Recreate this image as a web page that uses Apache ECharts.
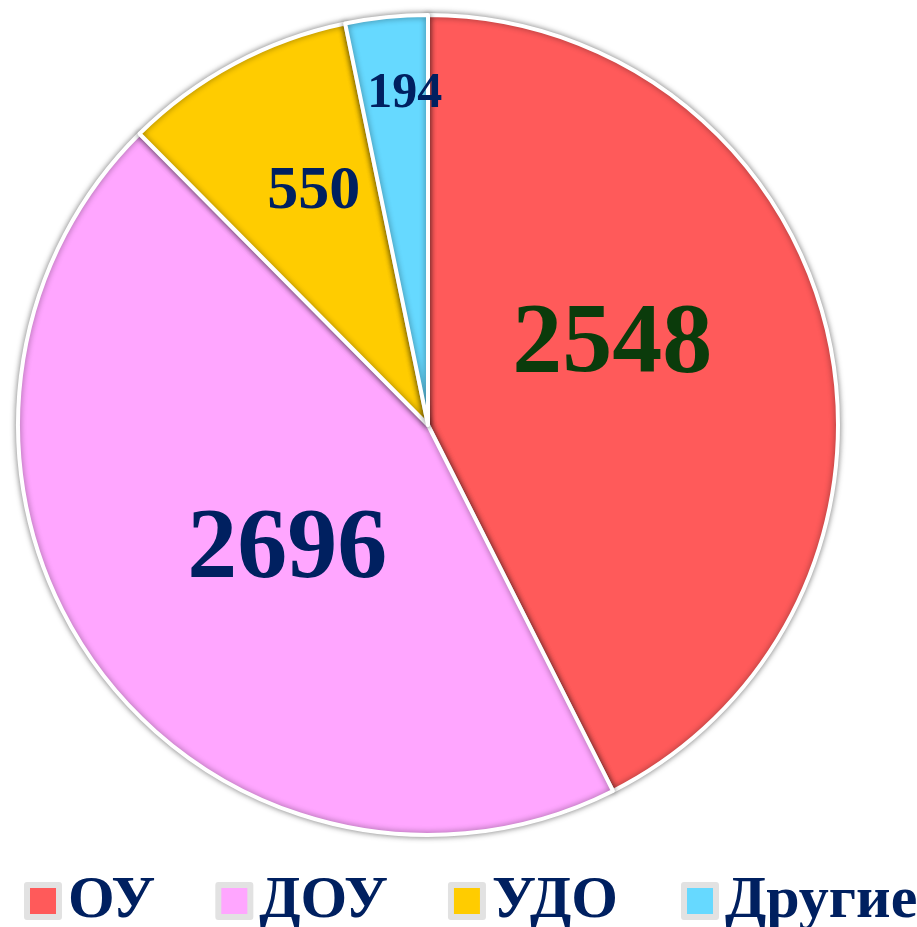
<!DOCTYPE html>
<html>
<head>
<meta charset="utf-8">
<script src="https://cdn.jsdelivr.net/npm/echarts@6/dist/echarts.min.js"></script>
<style>
  html, body { margin: 0; padding: 0; background: #fff; }
  #chart { width: 917px; height: 927px; }
</style>
</head>
<body>
<div id="chart"></div>
<script>
const categories = ['ОУ', 'ДОУ', 'УДО', 'Другие'];
const values = [2548, 2696, 550, 194];
const colors = ['#FF5A5A', '#FFA6FF', '#FFCC00', '#66D9FF'];

const labelColors = ['#0B3B0B', '#002060', '#002060', '#002060'];
const labelSizes = [100, 100, 62, 50];
// nudges from the default 'inside' spot
const labelShift = [[-18, -32], [28, 4], [-16, -50], [-2, -124]];

const myChart = echarts.init(document.getElementById('chart'));

// shared legend look; split in two so the row doesn't wrap
const legendBase = {
  bottom: -4,
  padding: 0,
  icon: 'rect',
  itemWidth: 32,
  itemHeight: 32,
  itemGap: 60,
  itemStyle: {
    borderColor: '#e2e2e2',
    borderWidth: 6
  },
  textStyle: {
    fontFamily: 'Liberation Serif',
    fontWeight: 'bold',
    fontSize: 60,
    color: '#002060',
    padding: [0, 0, 0, 4]
  }
};

const option = {
  color: colors,
  legend: [
    Object.assign({}, legendBase, { left: 24, data: categories.slice(0, 3) }),
    Object.assign({}, legendBase, { left: 681, data: categories.slice(3) })
  ],
  series: [
    {
      type: 'pie',
      center: [428, 425],
      radius: 410,
      startAngle: 90,
      clockwise: true,
      avoidLabelOverlap: false,
      itemStyle: {
        borderColor: '#ffffff',
        borderWidth: 4,
        shadowBlur: 6,
        shadowColor: 'rgba(0,0,0,0.45)'
      },
      label: {
        show: true,
        position: 'inside',
        formatter: '{c}',
        fontFamily: 'Liberation Serif',
        fontWeight: 'bold'
      },
      labelLine: { show: false },
      labelLayout: params => ({
        dx: labelShift[params.dataIndex][0],
        dy: labelShift[params.dataIndex][1]
      }),
      emphasis: { disabled: true },
      data: categories.map((name, i) => ({
        name: name,
        value: values[i],
        label: { color: labelColors[i], fontSize: labelSizes[i] }
      }))
    }
  ]
};

myChart.setOption(option, true);
</script>
</body>
</html>
